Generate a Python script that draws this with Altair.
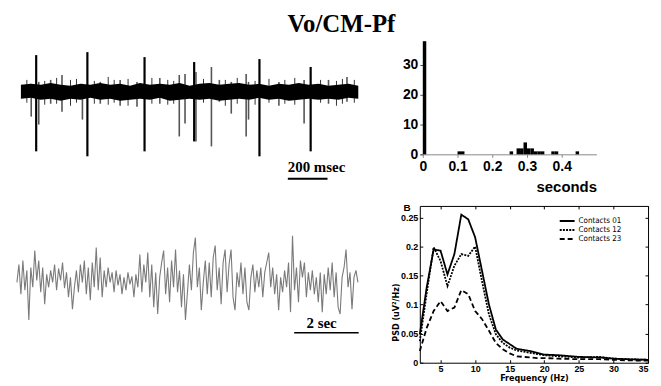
import altair as alt
import numpy as np
import pandas as pd

TITLE = "Vo/CM-Pf"

# ---------------- spike trace (units: px-like amplitude, baseline 0, up positive), time in ms
spike_env_step_ms = 50
spike_env_upper = [7, 8, 7, 9, 7, 6, 8, 7, 9, 7, 8, 6, 9, 7, 8, 7, 9, 6, 8, 9,
                   7, 8, 9, 7, 8, 6, 8, 7, 9, 7, 8, 6, 7, 8, 6]
spike_env_lower = [-7, -6, -8, -7, -9, -7, -8, -6, -8, -7, -9, -8, -7, -8, -6, -9, -8, -7, -8, -7,
                   -9, -8, -7, -8, -6, -8, -7, -9, -8, -7, -8, -7, -8, -6, -7]
spike_t_ms = [77, 335, 623, 873, 1202, 1460,
              52, 90, 150, 207, 310, 400, 500, 585, 700, 798, 827, 882, 960, 1000, 1060,
              1135, 1147, 1300, 1427, 1550, 1643,
              30, 120, 180, 250, 280, 370, 440, 470, 540, 660, 740, 770, 920, 1030, 1090,
              1180, 1250, 1330, 1380, 1510, 1590, 1620, 1680]
spike_top = [37, 40, 35, 30, 33, 25,
             8, 10, 12, 17, 8, 10, 12, 10, 14, 17, 18, 20, 25, 12, 10,
             18, 10, 10, 12, 12, 15,
             12, 11, 14, 12, 13, 11, 15, 12, 13, 14, 12, 11, 13, 12, 14,
             11, 13, 12, 14, 12, 11, 13, 12]
spike_bottom = [-60, -65, -60, -50, -65, -60,
                -25, -33, -12, -20, -28, -12, -14, -15, -12, -45, -32, -50, -55, -10, -22,
                -45, -28, -14, -32, -12, -10,
                -11, -13, -12, -14, -11, -12, -13, -11, -14, -12, -13, -12, -11, -14, -12,
                -13, -11, -12, -13, -11, -14, -12, -11]
spike_kind = ["unit"] * 6 + ["small"] * 21 + ["hair"] * 23
spike_scalebar_ms = [1345, 1545]
spike_scalebar_y = -87.7
spike_scalebar_label = "200 msec"

# ---------------- ISI histogram
isi_bin_start = [0.00, 0.10, 0.11, 0.25, 0.27, 0.28, 0.29, 0.30, 0.31, 0.32, 0.33, 0.34, 0.37, 0.38, 0.44]
isi_count = [38, 1, 1, 1, 2, 2, 4, 2, 2, 1, 1, 1, 1, 1, 1]
isi_bin_width = 0.01
isi_ticks = [0, 0.1, 0.2, 0.3, 0.4]
isi_count_ticks = [0, 10, 20, 30]

# ---------------- LFP trace
lfp_step_s = 0.0615
lfp_values = [0, 18, -12, 22, -8, 12, -38, 15, -5, 32,
              2, 22, -10, 15, -22, 8, -5, 12, 0, 18,
              -8, 14, 2, 20, -6, 10, -15, 5, -27, -5,
              12, -10, 18, 0, 22, -12, 15, -18, 20, -5,
              35, -8, 25, -15, 12, -5, 15, 0, 10, -10,
              12, -3, 8, -12, 5, -8, 10, -2, 6, -15,
              8, -5, 28, -10, 18, 0, 30, -15, 18, -25,
              10, -32, 5, 20, 32, -12, 15, -20, 22, -5,
              33, -10, 12, -25, 8, -38, -10, 18, -8, 30,
              45, -5, 15, -28, 0, 22, -12, 20, -15, 25,
              37, -8, 15, -22, 20, 33, -10, 18, 33, -15,
              -28, 10, -5, 20, -12, 15, -20, -28, 5, 18,
              -10, 12, -5, 15, -15, 10, 20, 30, -5, 15,
              -12, 8, -28, 5, -10, 12, -5, 20, -30, 47,
              -8, 15, -20, 22, 5, 20, -15, 10, -8, 12,
              -12, 5, -20, 10, -30, 8, -12, 15, -8, 20,
              -15, 10, -25, -32, 5, 15, 33, -5, 10, -27,
              5, 12, 0]
lfp_scalebar_s = [8.6, 10.6]
lfp_scalebar_y = -50.7
lfp_scalebar_label = "2 sec"

# ---------------- PSD
psd_freq = [2, 3, 4, 5, 6, 7, 8, 9, 10, 11, 12, 13, 14, 15, 16, 17, 18, 19, 20, 22, 25, 28, 30, 32, 35]
psd_contacts_01 = [0.049, 0.130, 0.195, 0.193, 0.152, 0.187, 0.255, 0.247, 0.216, 0.158, 0.100, 0.057,
                   0.040, 0.032, 0.024, 0.022, 0.020, 0.017, 0.014, 0.013, 0.010, 0.009, 0.007, 0.006, 0.005]
psd_contacts_12 = [0.037, 0.120, 0.199, 0.175, 0.132, 0.167, 0.187, 0.184, 0.200, 0.140, 0.083, 0.049,
                   0.034, 0.026, 0.021, 0.019, 0.017, 0.015, 0.013, 0.011, 0.009, 0.010, 0.007, 0.006, 0.005]
psd_contacts_23 = [0.020, 0.060, 0.089, 0.106, 0.089, 0.095, 0.125, 0.118, 0.089, 0.075, 0.055, 0.034,
                   0.023, 0.016, 0.011, 0.010, 0.009, 0.008, 0.008, 0.007, 0.006, 0.006, 0.005, 0.004, 0.0035]
psd_labels = ["Contacts 01", "Contacts 12", "Contacts 23"]
psd_freq_ticks = [5, 10, 15, 20, 25, 30, 35]
psd_power_ticks = [0, 0.05, 0.1, 0.15, 0.2, 0.25]

SERIF = "Liberation Serif"
SANS = "Liberation Sans"
NARROW = "Liberation Sans Narrow, DejaVu Sans Condensed, Liberation Sans"

# ================= spike panel
xs_spk = alt.Scale(domain=[-20, 1710], nice=False, zero=False)
ys_spk = alt.Scale(domain=[-91, 54], nice=False, zero=False)

band_df = pd.DataFrame({
    "t": np.arange(len(spike_env_upper)) * spike_env_step_ms,
    "hi": spike_env_upper,
    "lo": spike_env_lower,
})
band = alt.Chart(band_df).mark_area(color="black").encode(
    x=alt.X("t:Q", scale=xs_spk, axis=None),
    y=alt.Y("hi:Q", scale=ys_spk, axis=None),
    y2="lo:Q",
)
spk_df = pd.DataFrame({"t": spike_t_ms, "top": spike_top, "bottom": spike_bottom, "kind": spike_kind})
spikes = alt.Chart(spk_df).mark_rule().encode(
    x=alt.X("t:Q", scale=xs_spk, axis=None),
    y=alt.Y("top:Q", scale=ys_spk, axis=None),
    y2="bottom:Q",
    color=alt.Color("kind:N", scale=alt.Scale(domain=["unit", "small", "hair"],
                                              range=["#000000", "#555555", "#333333"]), legend=None),
    strokeWidth=alt.StrokeWidth("kind:N", scale=alt.Scale(domain=["unit", "small", "hair"],
                                                          range=[2.2, 1.0, 1.0]), legend=None),
)
sb1_df = pd.DataFrame({"t0": [spike_scalebar_ms[0]], "t1": [spike_scalebar_ms[1]],
                       "y": [spike_scalebar_y], "label": [spike_scalebar_label]})
sb1 = alt.Chart(sb1_df).mark_rule(color="black", strokeWidth=2).encode(
    x=alt.X("t0:Q", scale=xs_spk, axis=None), x2="t1:Q",
    y=alt.Y("y:Q", scale=ys_spk, axis=None))
sb1t = alt.Chart(sb1_df).mark_text(align="left", baseline="alphabetic", font=SERIF, fontWeight="bold",
                                   fontSize=15, dy=-7, color="black").encode(
    x=alt.X("t0:Q", scale=xs_spk, axis=None),
    y=alt.Y("y:Q", scale=ys_spk, axis=None), text="label:N")
spike_panel = alt.layer(spikes, band, sb1, sb1t).properties(width=346, height=145)

# ================= histogram
hist_df = pd.DataFrame({"b": isi_bin_start, "n": isi_count})
hist_df["b2"] = hist_df["b"] + isi_bin_width
hist = alt.Chart(hist_df).mark_rect(color="black").encode(
    x=alt.X("b:Q", scale=alt.Scale(domain=[-0.0086, 0.5], nice=False, zero=False),
            axis=alt.Axis(values=isi_ticks, format="~g", grid=False, domainColor="#888888",
                          tickColor="#888888", tickSize=3, labelFont=SANS, labelFontWeight="bold",
                          labelFontSize=14, labelPadding=2, labelColor="black",
                          title="seconds", titleFont=SANS, titleFontWeight="bold", titleFontSize=15,
                          titleAnchor="end", titlePadding=6, titleColor="black")),
    x2="b2:Q",
    y=alt.Y("n:Q", scale=alt.Scale(domain=[0, 39], nice=False),
            axis=alt.Axis(values=isi_count_ticks, grid=False, domain=False, tickSize=3,
                          tickColor="#555555", labelFont=SANS, labelFontWeight="bold",
                          labelFontSize=14, labelPadding=2, labelColor="black", title=None,
                          offset=-3)),
    y2=alt.datum(0),
).properties(width=178, height=117)

# ================= LFP panel
xs_lfp = alt.Scale(domain=[0, 10.65], nice=False, zero=False)
ys_lfp = alt.Scale(domain=[-63, 77], nice=False, zero=False)
lfp_df = pd.DataFrame({"t": np.arange(len(lfp_values)) * lfp_step_s, "v": lfp_values})
lfp_line = alt.Chart(lfp_df).mark_line(color="#7a7a7a", strokeWidth=1.1).encode(
    x=alt.X("t:Q", scale=xs_lfp, axis=None),
    y=alt.Y("v:Q", scale=ys_lfp, axis=None))
sb2_df = pd.DataFrame({"t0": [lfp_scalebar_s[0]], "t1": [lfp_scalebar_s[1]],
                       "tm": [(lfp_scalebar_s[0] + lfp_scalebar_s[1]) / 2 - 0.15],
                       "y": [lfp_scalebar_y], "label": [lfp_scalebar_label]})
sb2 = alt.Chart(sb2_df).mark_rule(color="black", strokeWidth=1.5).encode(
    x=alt.X("t0:Q", scale=xs_lfp, axis=None), x2="t1:Q",
    y=alt.Y("y:Q", scale=ys_lfp, axis=None))
sb2t = alt.Chart(sb2_df).mark_text(align="center", baseline="alphabetic", font=SERIF, fontWeight="bold",
                                   fontSize=15, dy=-5, color="black").encode(
    x=alt.X("tm:Q", scale=xs_lfp, axis=None),
    y=alt.Y("y:Q", scale=ys_lfp, axis=None), text="label:N")
lfp_panel = alt.layer(lfp_line, sb2, sb2t).properties(width=346, height=140)

# ================= PSD panel
psd_df = pd.DataFrame({
    "f": psd_freq * 3,
    "p": psd_contacts_01 + psd_contacts_12 + psd_contacts_23,
    "contact": [psd_labels[0]] * len(psd_freq) + [psd_labels[1]] * len(psd_freq) + [psd_labels[2]] * len(psd_freq),
})
xs_psd = alt.Scale(domain=[2, 35], nice=False, zero=False)
ys_psd = alt.Scale(domain=[0, 0.27], nice=False)
PW, PH = 230, 158

psd_lines = alt.Chart(psd_df).mark_line(color="black", strokeWidth=1.8).encode(
    x=alt.X("f:Q", scale=xs_psd,
            axis=alt.Axis(orient="bottom", values=psd_freq_ticks, ticks=False, domain=False, grid=False,
                          labelFont=SANS, labelFontWeight="bold", labelFontSize=9, labelPadding=2,
                          labelColor="black", title="Frequency (Hz)", titleFont=NARROW,
                          titleFontWeight="bold", titleFontSize=9, titlePadding=0, titleColor="black")),
    y=alt.Y("p:Q", scale=ys_psd,
            axis=alt.Axis(orient="left", values=psd_power_ticks, format=".2~f", ticks=False, domain=False,
                          grid=False, labelFont=SANS, labelFontWeight="bold", labelFontSize=9,
                          labelPadding=2, labelColor="black", title="PSD (uV²/Hz)", titleFont=NARROW,
                          titleFontWeight="bold", titleFontSize=9, titlePadding=0, titleColor="black",
                          titleY=107)),
    strokeDash=alt.StrokeDash("contact:N",
                              scale=alt.Scale(domain=psd_labels, range=[[1, 0], [2, 1.2], [5, 3]]),
                              legend=alt.Legend(orient="none", legendX=546, legendY=180, title=None,
                                                symbolType="stroke", symbolStrokeWidth=2,
                                                symbolStrokeColor="black", symbolSize=225,
                                                clipHeight=8.5, rowPadding=0, labelFont=NARROW,
                                                labelFontSize=8, labelOffset=3, labelColor="black",
                                                padding=0)),
)
ticks_in_a = alt.Chart(psd_df).mark_point(opacity=0).encode(
    x=alt.X("f:Q", scale=xs_psd,
            axis=alt.Axis(orient="top", offset=-PH, values=psd_freq_ticks, labels=False, domain=False,
                          grid=False, tickSize=3, tickColor="black", title=None)),
    y=alt.Y("p:Q", scale=ys_psd,
            axis=alt.Axis(orient="right", offset=-PW, values=psd_power_ticks, labels=False, domain=False,
                          grid=False, tickSize=3, tickColor="black", title=None)),
)
ticks_in_b = alt.Chart(psd_df).mark_point(opacity=0).encode(
    x=alt.X("f:Q", scale=xs_psd,
            axis=alt.Axis(orient="bottom", offset=-PH, values=psd_freq_ticks, labels=False, domain=False,
                          grid=False, tickSize=3, tickColor="black", title=None)),
    y=alt.Y("p:Q", scale=ys_psd,
            axis=alt.Axis(orient="left", offset=-PW, values=psd_power_ticks, labels=False, domain=False,
                          grid=False, tickSize=3, tickColor="black", title=None)),
)
psd = alt.layer(psd_lines, ticks_in_a, ticks_in_b).resolve_axis(
    x="independent", y="independent"
).properties(
    width=PW, height=PH,
    view=alt.ViewBackground(stroke="black", strokeWidth=1),
    title=alt.TitleParams("B", anchor="start", frame="bounds", font=SANS, fontWeight="bold",
                          fontSize=10, dy=8, dx=12, offset=0, color="black"),
)

chart = alt.concat(
    spike_panel, hist, lfp_panel, psd, columns=2, bounds="flush",
    spacing={"row": 24, "column": 60},
    title=alt.TitleParams(TITLE, font=SERIF, fontSize=25, fontWeight="bold", anchor="middle",
                          dx=8, offset=1, color="black"),
    padding={"left": 6, "top": 3, "right": 0, "bottom": 0},
).configure_view(stroke=None)

chart.save("out.html", embed_options={"renderer": "svg", "actions": False})
